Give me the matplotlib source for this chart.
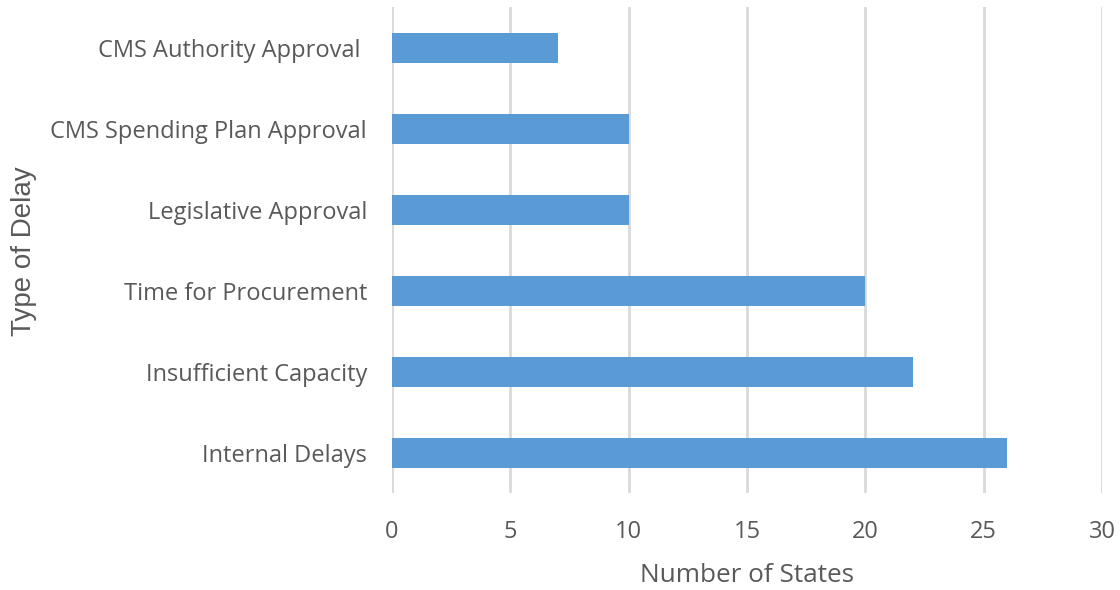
import numpy as np
import matplotlib.pyplot as plt

categories = ["Internal Delays", "Insufficient Capacity", "Time for Procurement",
              "Legislative Approval", "CMS Spending Plan Approval", "CMS Authority Approval "]
states = [26, 22, 20, 10, 10, 7]

plt.rcParams['font.family'] = ['Open Sans', 'DejaVu Sans']
grey = "#595959"

fig = plt.figure(figsize=(11.2, 5.9), dpi=100)
ax = fig.add_axes([0.35, 0.1636, 0.634, 0.8237])

y = np.arange(len(categories))
ax.barh(y, states, height=0.36, color="#5b9bd5", zorder=3)

ax.set_xlim(0, 30)
ax.set_ylim(-0.5, len(categories) - 0.5)
ax.set_xticks(range(0, 31, 5))
ax.set_yticks(y)
ax.set_yticklabels(categories)
ax.grid(axis="x", color="#d9d9d9", linewidth=2, zorder=0)
for s in ax.spines.values():
    s.set_visible(False)
ax.tick_params(axis="both", length=0, labelsize=17, labelcolor=grey)
ax.tick_params(axis="x", pad=19)
ax.tick_params(axis="y", pad=18)

# axis titles placed in figure coords
fig.text(0.5 * (0.35 + 0.984), 1 - 575 / 590, "Number of States", fontsize=18.8,
         color=grey, ha="center", va="center")
fig.text(24 / 1120, 1 - 251 / 590, "Type of Delay", fontsize=20, color=grey,
         rotation=90, ha="center", va="center", family=["Liberation Sans", "DejaVu Sans"])

fig.savefig("out.png", dpi=100)
